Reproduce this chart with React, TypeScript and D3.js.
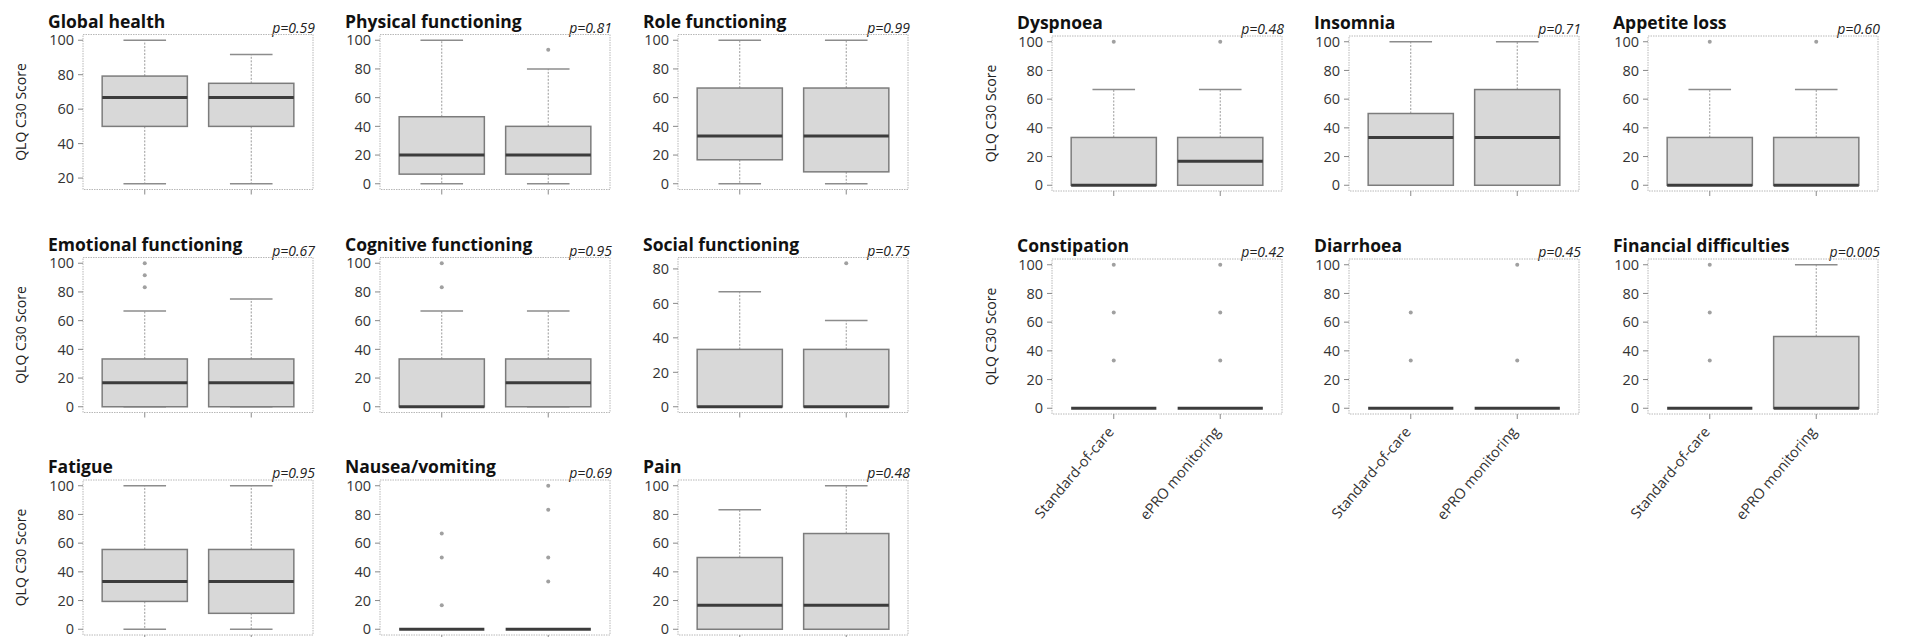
import React from 'react';
import * as d3 from 'd3';

// ---------- data ----------
const groups = ['Standard-of-care', 'ePRO monitoring'];
const panelNames = [
  'Global health', 'Physical functioning', 'Role functioning',
  'Emotional functioning', 'Cognitive functioning', 'Social functioning',
  'Fatigue', 'Nausea/vomiting', 'Pain',
  'Dyspnoea', 'Insomnia', 'Appetite loss',
  'Constipation', 'Diarrhoea', 'Financial difficulties',
];
const pValues = [
  'p=0.59', 'p=0.81', 'p=0.99',
  'p=0.67', 'p=0.95', 'p=0.75',
  'p=0.95', 'p=0.69', 'p=0.48',
  'p=0.48', 'p=0.71', 'p=0.60',
  'p=0.42', 'p=0.45', 'p=0.005',
];
// [lower whisker, Q1, median, Q3, upper whisker]
const socStats: number[][] = [
  [16.7, 50, 66.7, 79.2, 100],
  [0, 6.7, 20, 46.7, 100],
  [0, 16.7, 33.3, 66.7, 100],
  [0, 0, 16.7, 33.3, 66.7],
  [0, 0, 0, 33.3, 66.7],
  [0, 0, 0, 33.3, 66.7],
  [0, 19.4, 33.3, 55.6, 100],
  [0, 0, 0, 0, 0],
  [0, 0, 16.7, 50, 83.3],
  [0, 0, 0, 33.3, 66.7],
  [0, 0, 33.3, 50, 100],
  [0, 0, 0, 33.3, 66.7],
  [0, 0, 0, 0, 0],
  [0, 0, 0, 0, 0],
  [0, 0, 0, 0, 0],
];
const eproStats: number[][] = [
  [16.7, 50, 66.7, 75, 91.7],
  [0, 6.7, 20, 40, 80],
  [0, 8.3, 33.3, 66.7, 100],
  [0, 0, 16.7, 33.3, 75],
  [0, 0, 16.7, 33.3, 66.7],
  [0, 0, 0, 33.3, 50],
  [0, 11.1, 33.3, 55.6, 100],
  [0, 0, 0, 0, 0],
  [0, 0, 16.7, 66.7, 100],
  [0, 0, 16.7, 33.3, 66.7],
  [0, 0, 33.3, 66.7, 100],
  [0, 0, 0, 33.3, 66.7],
  [0, 0, 0, 0, 0],
  [0, 0, 0, 0, 0],
  [0, 0, 0, 50, 100],
];
const socOutliers: number[][] = [
  [], [], [],
  [83.3, 91.7, 100], [83.3, 100], [],
  [], [16.7, 50, 66.7], [],
  [100], [], [100],
  [33.3, 66.7, 100], [33.3, 66.7], [33.3, 66.7, 100],
];
const eproOutliers: number[][] = [
  [], [93.3], [],
  [], [], [83.3],
  [], [33.3, 50, 83.3, 100], [],
  [100], [], [100],
  [33.3, 66.7, 100], [33.3, 100], [],
];
const yTicks = [0, 20, 40, 60, 80, 100];
const yAxisTitle = 'QLQ C30 Score';

// ---------- layout ----------
const colLeft = [83, 380, 678, 1052, 1349, 1648];
const rowTopLeft = [34.5, 257.5, 480];
const rowTopRight = [36, 259];
const frameW = 230;
const frameH = 155;

function panelFrame(i: number) {
  if (i < 9) {
    const r = Math.floor(i / 3), c = i % 3;
    return { x: colLeft[c], y: rowTopLeft[r], yLabel: c === 0, xLabels: false, labelX: 21 };
  }
  const j = i - 9;
  const r = Math.floor(j / 3), c = j % 3;
  return { x: colLeft[3 + c], y: rowTopRight[r], yLabel: c === 0, xLabels: r === 1, labelX: 991 };
}

const FONT = '"Open Sans", Lato, sans-serif';

function Panel({ i }: { i: number }) {
  const f = panelFrame(i);
  const stats = [socStats[i], eproStats[i]];
  const outs = [socOutliers[i], eproOutliers[i]];
  const all = [...stats[0], ...stats[1], ...outs[0], ...outs[1]];
  const lo = d3.min(all) as number, hi = d3.max(all) as number;
  const pad = (hi - lo) * 0.04;
  const y = d3.scaleLinear().domain([lo - pad, hi + pad]).range([f.y + frameH, f.y]);
  const x = d3.scaleLinear().domain([0.42, 2.58]).range([f.x, f.x + frameW]);
  const bw = x(1.8) - x(1);
  const ticks = yTicks.filter((t) => t >= lo - pad && t <= hi + pad);
  const bottom = f.y + frameH;
  return (
    <g>
      <text x={f.x - 35} y={f.y - 7} fontFamily={FONT} fontWeight={700} fontSize={17.5} fill="#111">
        {panelNames[i]}
      </text>
      <text x={f.x + frameW + 2} y={f.y - 2} textAnchor="end" fontFamily={FONT} fontStyle="italic" fontSize={14} fill="#222">
        {pValues[i]}
      </text>
      <rect x={f.x} y={f.y} width={frameW} height={frameH} fill="none" stroke="#b8b8b8" strokeWidth={1} strokeDasharray="1.5,1" />
      {ticks.map((t) => (
        <g key={t}>
          <line x1={f.x - 5} x2={f.x} y1={y(t)} y2={y(t)} stroke="#8a8a8a" />
          <text x={f.x - 9} y={y(t)} dy="0.36em" textAnchor="end" fontFamily={FONT} fontSize={14.5} fill="#333">
            {t}
          </text>
        </g>
      ))}
      {groups.map((g, k) => {
        const cx = x(k + 1);
        const s = stats[k];
        return (
          <g key={g}>
            <line x1={cx} x2={cx} y1={bottom} y2={bottom + 5} stroke="#8a8a8a" />
            <line x1={cx} x2={cx} y1={y(s[3])} y2={y(s[4])} stroke="#9a9a9a" strokeDasharray="2,1.5" />
            <line x1={cx} x2={cx} y1={y(s[1])} y2={y(s[0])} stroke="#9a9a9a" strokeDasharray="2,1.5" />
            <line x1={cx - bw / 4} x2={cx + bw / 4} y1={y(s[4])} y2={y(s[4])} stroke="#8c8c8c" strokeWidth={1.5} />
            <line x1={cx - bw / 4} x2={cx + bw / 4} y1={y(s[0])} y2={y(s[0])} stroke="#8c8c8c" strokeWidth={1.5} />
            <rect x={cx - bw / 2} y={y(s[3])} width={bw} height={y(s[1]) - y(s[3])} fill="#d8d8d8" stroke="#7c7c7c" strokeWidth={1.5} />
            <line x1={cx - bw / 2} x2={cx + bw / 2} y1={y(s[2])} y2={y(s[2])} stroke="#3c3c3c" strokeWidth={3} />
            {outs[k].map((o, m) => (
              <circle key={m} cx={cx} cy={y(o)} r={2} fill="#a0a0a0" />
            ))}
            {f.xLabels && (
              <text
                transform={`translate(${cx - 3},${bottom + 15}) rotate(-50)`}
                textAnchor="end"
                dy="0.35em"
                fontFamily={FONT}
                fontSize={14.5}
                fill="#333"
              >
                {g}
              </text>
            )}
          </g>
        );
      })}
      {f.yLabel && (
        <text
          transform={`translate(${f.labelX},${f.y + frameH / 2}) rotate(-90)`}
          textAnchor="middle"
          dy="0.35em"
          fontFamily={FONT}
          fontSize={14}
          fill="#222"
        >
          {yAxisTitle}
        </text>
      )}
    </g>
  );
}

export default function App() {
  return (
    <svg
      width={1906}
      height={637}
      style={{ position: 'absolute', left: 0, top: 0, background: '#fff' }}
    >
      <rect width={1906} height={637} fill="#fff" />
      {panelNames.map((_, i) => (
        <Panel key={i} i={i} />
      ))}
    </svg>
  );
}
